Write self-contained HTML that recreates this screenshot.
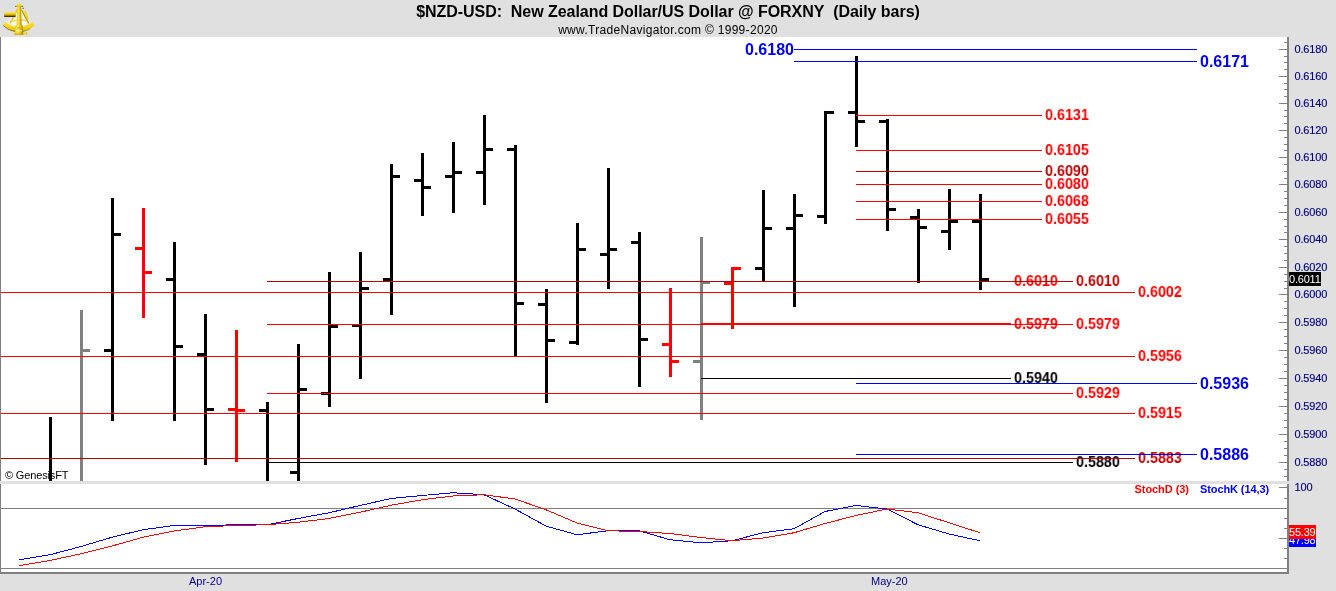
<!DOCTYPE html>
<html lang="en">
<head>
<meta charset="utf-8">
<title>$NZD-USD: New Zealand Dollar/US Dollar @ FORXNY (Daily bars)</title>
<style>
html,body{margin:0;padding:0}
body{width:1336px;height:591px;overflow:hidden;background:#e0e0e0;position:relative;font-family:"Liberation Sans",Arial,sans-serif;-webkit-font-smoothing:antialiased}
#chart{position:absolute;left:0;top:0;width:1336px;height:591px;overflow:hidden}
#gfx{position:absolute;left:0;top:0}
.plot{position:absolute;left:0;width:1287px;background:#fff}
.t{position:absolute;white-space:nowrap;line-height:1;margin:0;padding:0}
.title{left:0;width:1336px;text-align:center;font-weight:bold;font-size:16px;color:#000;top:4px;letter-spacing:-0.045px}
.sub{left:0;width:1336px;text-align:center;font-size:12px;color:#000;top:24px;letter-spacing:0.31px}
.ax{font-size:11px;color:#000080;left:1294.5px;letter-spacing:-0.18px;-webkit-text-stroke:0.15px #000080}
.lb{font-weight:bold}
.r{font-size:15.6px;transform:scale(0.92,0.917);transform-origin:0 0;will-change:transform}
.box{position:absolute;font-size:11px;color:#fff;line-height:14px;height:14px;white-space:nowrap;left:1289px;letter-spacing:-0.2px;overflow:hidden}

</style>
</head>
<body>
<div id="chart">
<div class="plot" style="top:37px;height:444px"></div>
<div class="plot" style="top:484px;height:88px"></div>
<div class="t" style="left:5px;top:470px;font-size:11px;color:#000;letter-spacing:-0.15px">© GenesisFT</div>
<div class="t lb" style="left:745px;top:42px;font-size:16px;color:#0000ff">0.6180</div>
<div class="t lb" style="left:1200px;top:54px;font-size:16px;color:#0000ff">0.6171</div>
<div class="t lb" style="left:1200px;top:376px;font-size:16px;color:#0000ff">0.5936</div>
<div class="t lb" style="left:1200px;top:447px;font-size:16px;color:#0000ff">0.5886</div>
<div class="t lb r" style="left:1045px;top:108px;color:#ff0000">0.6131</div>
<div class="t lb r" style="left:1045px;top:143px;color:#ff0000">0.6105</div>
<div class="t lb r" style="left:1045px;top:164px;color:#c00000">0.6090</div>
<div class="t lb r" style="left:1045px;top:177px;color:#ff0000">0.6080</div>
<div class="t lb r" style="left:1045px;top:194px;color:#ff0000">0.6068</div>
<div class="t lb r" style="left:1045px;top:212px;color:#ff0000">0.6055</div>
<div class="t lb r" style="left:1014px;top:274px;color:#ff0000">0.6010</div>
<div class="t lb r" style="left:1076px;top:274px;color:#c00000">0.6010</div>
<div class="t lb r" style="left:1138px;top:285px;color:#ff0000">0.6002</div>
<div class="t lb r" style="left:1014px;top:317px;color:#ff0000">0.5979</div>
<div class="t lb r" style="left:1076px;top:317px;color:#ff0000">0.5979</div>
<div class="t lb r" style="left:1138px;top:349px;color:#ff0000">0.5956</div>
<div class="t lb r" style="left:1014px;top:371px;color:#000000">0.5940</div>
<div class="t lb r" style="left:1076px;top:386px;color:#ff0000">0.5929</div>
<div class="t lb r" style="left:1138px;top:406px;color:#ff0000">0.5915</div>
<div class="t lb r" style="left:1138px;top:451px;color:#c00000">0.5883</div>
<div class="t lb r" style="left:1076px;top:455px;color:#000000">0.5880</div>
<svg id="gfx" width="1336" height="591" viewBox="0 0 1336 591" shape-rendering="crispEdges">
<rect x="0" y="37" width="1" height="444" fill="#808080"/>
<rect x="0" y="484" width="1" height="90" fill="#808080"/>
<rect x="1" y="508" width="1286" height="1" fill="#808080"/>
<rect x="1" y="568" width="1286" height="1" fill="#808080"/>
<rect x="0" y="572" width="1289" height="2" fill="#808080"/>
<g id="bars">
<rect x="49" y="417" width="3" height="64" fill="#000000"/>
<rect x="80" y="310" width="3" height="171" fill="#808080"/>
<rect x="83" y="349" width="7" height="3" fill="#808080"/>
<rect x="111" y="198" width="3" height="223" fill="#000000"/>
<rect x="104" y="349" width="7" height="3" fill="#000000"/>
<rect x="114" y="233" width="7" height="3" fill="#000000"/>
<rect x="142" y="208" width="3" height="110" fill="#ff0000"/>
<rect x="135" y="247" width="7" height="3" fill="#ff0000"/>
<rect x="145" y="271" width="7" height="3" fill="#ff0000"/>
<rect x="173" y="242" width="3" height="179" fill="#000000"/>
<rect x="166" y="278" width="7" height="3" fill="#000000"/>
<rect x="176" y="345" width="7" height="3" fill="#000000"/>
<rect x="204" y="314" width="3" height="151" fill="#000000"/>
<rect x="197" y="353" width="7" height="3" fill="#000000"/>
<rect x="207" y="408" width="7" height="3" fill="#000000"/>
<rect x="235" y="330" width="3" height="132" fill="#ff0000"/>
<rect x="228" y="408" width="7" height="3" fill="#ff0000"/>
<rect x="238" y="409" width="7" height="3" fill="#ff0000"/>
<rect x="266" y="402" width="3" height="79" fill="#000000"/>
<rect x="259" y="409" width="7" height="3" fill="#000000"/>
<rect x="297" y="344" width="3" height="137" fill="#000000"/>
<rect x="290" y="471" width="7" height="3" fill="#000000"/>
<rect x="300" y="388" width="7" height="3" fill="#000000"/>
<rect x="328" y="272" width="3" height="135" fill="#000000"/>
<rect x="321" y="392" width="7" height="3" fill="#000000"/>
<rect x="331" y="325" width="7" height="3" fill="#000000"/>
<rect x="359" y="252" width="3" height="127" fill="#000000"/>
<rect x="352" y="324" width="7" height="3" fill="#000000"/>
<rect x="362" y="287" width="7" height="3" fill="#000000"/>
<rect x="390" y="164" width="3" height="151" fill="#000000"/>
<rect x="383" y="278" width="7" height="3" fill="#000000"/>
<rect x="393" y="175" width="7" height="3" fill="#000000"/>
<rect x="421" y="153" width="3" height="63" fill="#000000"/>
<rect x="414" y="179" width="7" height="3" fill="#000000"/>
<rect x="424" y="186" width="7" height="3" fill="#000000"/>
<rect x="452" y="142" width="3" height="71" fill="#000000"/>
<rect x="445" y="175" width="7" height="3" fill="#000000"/>
<rect x="455" y="171" width="7" height="3" fill="#000000"/>
<rect x="483" y="115" width="3" height="90" fill="#000000"/>
<rect x="476" y="171" width="7" height="3" fill="#000000"/>
<rect x="486" y="148" width="7" height="3" fill="#000000"/>
<rect x="514" y="145" width="3" height="211" fill="#000000"/>
<rect x="507" y="148" width="7" height="3" fill="#000000"/>
<rect x="517" y="302" width="7" height="3" fill="#000000"/>
<rect x="545" y="289" width="3" height="114" fill="#000000"/>
<rect x="538" y="303" width="7" height="3" fill="#000000"/>
<rect x="548" y="339" width="7" height="3" fill="#000000"/>
<rect x="576" y="223" width="3" height="122" fill="#000000"/>
<rect x="569" y="341" width="7" height="3" fill="#000000"/>
<rect x="579" y="248" width="7" height="3" fill="#000000"/>
<rect x="607" y="168" width="3" height="121" fill="#000000"/>
<rect x="600" y="253" width="7" height="3" fill="#000000"/>
<rect x="610" y="248" width="7" height="3" fill="#000000"/>
<rect x="638" y="232" width="3" height="155" fill="#000000"/>
<rect x="631" y="241" width="7" height="3" fill="#000000"/>
<rect x="641" y="338" width="7" height="3" fill="#000000"/>
<rect x="669" y="288" width="3" height="89" fill="#ff0000"/>
<rect x="662" y="343" width="7" height="3" fill="#ff0000"/>
<rect x="672" y="360" width="7" height="3" fill="#ff0000"/>
<rect x="700" y="237" width="3" height="183" fill="#808080"/>
<rect x="693" y="360" width="7" height="3" fill="#808080"/>
<rect x="703" y="281" width="7" height="3" fill="#808080"/>
<rect x="731" y="267" width="3" height="62" fill="#ff0000"/>
<rect x="724" y="282" width="7" height="3" fill="#ff0000"/>
<rect x="734" y="267" width="7" height="3" fill="#ff0000"/>
<rect x="762" y="190" width="3" height="91" fill="#000000"/>
<rect x="755" y="267" width="7" height="3" fill="#000000"/>
<rect x="765" y="227" width="7" height="3" fill="#000000"/>
<rect x="793" y="194" width="3" height="113" fill="#000000"/>
<rect x="786" y="227" width="7" height="3" fill="#000000"/>
<rect x="796" y="214" width="7" height="3" fill="#000000"/>
<rect x="824" y="111" width="3" height="113" fill="#000000"/>
<rect x="817" y="215" width="7" height="3" fill="#000000"/>
<rect x="827" y="111" width="7" height="3" fill="#000000"/>
<rect x="855" y="56" width="3" height="91" fill="#000000"/>
<rect x="848" y="111" width="7" height="3" fill="#000000"/>
<rect x="858" y="120" width="7" height="3" fill="#000000"/>
<rect x="886" y="119" width="3" height="112" fill="#000000"/>
<rect x="879" y="120" width="7" height="3" fill="#000000"/>
<rect x="889" y="208" width="7" height="3" fill="#000000"/>
<rect x="917" y="209" width="3" height="74" fill="#000000"/>
<rect x="910" y="216" width="7" height="3" fill="#000000"/>
<rect x="920" y="226" width="7" height="3" fill="#000000"/>
<rect x="948" y="189" width="3" height="61" fill="#000000"/>
<rect x="941" y="230" width="7" height="3" fill="#000000"/>
<rect x="951" y="220" width="7" height="3" fill="#000000"/>
<rect x="979" y="194" width="3" height="96" fill="#000000"/>
<rect x="972" y="220" width="7" height="3" fill="#000000"/>
<rect x="982" y="278" width="7" height="3" fill="#000000"/>
</g>
<g id="levels">
<rect x="794" y="49" width="403" height="1" fill="#0000ff"/>
<rect x="794" y="61" width="403" height="1" fill="#0000ff"/>
<rect x="856" y="383" width="341" height="1" fill="#0000ff"/>
<rect x="856" y="454" width="341" height="1" fill="#0000ff"/>
<rect x="856" y="115" width="186" height="1" fill="#ff0000"/>
<rect x="856" y="150" width="186" height="1" fill="#ff0000"/>
<rect x="856" y="171" width="186" height="1" fill="#c00000"/>
<rect x="856" y="184" width="186" height="1" fill="#ff0000"/>
<rect x="856" y="201" width="186" height="1" fill="#ff0000"/>
<rect x="856" y="219" width="186" height="1" fill="#ff0000"/>
<rect x="267" y="281" width="806" height="1" fill="#c00000"/>
<rect x="1" y="292" width="1134" height="1" fill="#ff0000"/>
<rect x="267" y="324" width="806" height="1" fill="#ff0000"/>
<rect x="701" y="323" width="310" height="2" fill="#ff0000"/>
<rect x="1" y="356" width="1134" height="1" fill="#ff0000"/>
<rect x="701" y="378" width="310" height="1" fill="#000000"/>
<rect x="267" y="393" width="806" height="1" fill="#ff0000"/>
<rect x="1" y="413" width="1134" height="1" fill="#ff0000"/>
<rect x="1" y="458" width="1134" height="1" fill="#c00000"/>
<rect x="267" y="462" width="806" height="1" fill="#000000"/>
</g>
<rect x="0" y="481" width="1287" height="3" fill="#e0e0e0"/>
<g id="stoch">
<polyline points="19,559.75 50,554.75 81,546.50 112,537.25 143,529.75 174,525.50 205,525.50 236,524.75 267,524.75 298,518.50 329,512.75 360,505.50 391,498.50 422,495.50 453,492.75 484,494.75 515,509.00 546,526.10 577,534.75 608,530.75 639,530.75 670,539.75 701,542.75 732,540.75 763,532.75 794,528.75 825,511.50 856,505.50 887,509.00 918,524.75 949,534.00 980,540.75" fill="none" stroke="#0000ff" stroke-width="1"/>
<polyline points="19,565.75 50,560.50 81,553.75 112,546.00 143,537.25 174,531.00 205,526.75 236,525.50 267,524.75 298,522.25 329,518.50 360,512.25 391,505.25 422,499.75 453,496.00 484,494.75 515,499.00 546,509.75 577,523.00 608,530.75 639,531.50 670,533.50 701,537.50 732,540.75 763,538.00 794,532.75 825,523.50 856,515.50 887,509.00 918,512.75 949,522.75 980,532.75" fill="none" stroke="#ff0000" stroke-width="1"/>
</g>
<g id="axis" fill="#808080">
<rect x="1287" y="37" width="2" height="444"/>
<rect x="1287" y="484" width="2" height="90"/>
<rect x="1284" y="42" width="3" height="1"/>
<rect x="1279" y="49" width="8" height="1"/>
<rect x="1284" y="56" width="3" height="1"/>
<rect x="1284" y="62" width="3" height="1"/>
<rect x="1284" y="69" width="3" height="1"/>
<rect x="1279" y="76" width="8" height="1"/>
<rect x="1284" y="83" width="3" height="1"/>
<rect x="1284" y="89" width="3" height="1"/>
<rect x="1284" y="96" width="3" height="1"/>
<rect x="1279" y="103" width="8" height="1"/>
<rect x="1284" y="110" width="3" height="1"/>
<rect x="1284" y="116" width="3" height="1"/>
<rect x="1284" y="123" width="3" height="1"/>
<rect x="1279" y="130" width="8" height="1"/>
<rect x="1284" y="137" width="3" height="1"/>
<rect x="1284" y="144" width="3" height="1"/>
<rect x="1284" y="150" width="3" height="1"/>
<rect x="1279" y="157" width="8" height="1"/>
<rect x="1284" y="164" width="3" height="1"/>
<rect x="1284" y="171" width="3" height="1"/>
<rect x="1284" y="178" width="3" height="1"/>
<rect x="1279" y="184" width="8" height="1"/>
<rect x="1284" y="191" width="3" height="1"/>
<rect x="1284" y="198" width="3" height="1"/>
<rect x="1284" y="205" width="3" height="1"/>
<rect x="1279" y="212" width="8" height="1"/>
<rect x="1284" y="219" width="3" height="1"/>
<rect x="1284" y="226" width="3" height="1"/>
<rect x="1284" y="232" width="3" height="1"/>
<rect x="1279" y="239" width="8" height="1"/>
<rect x="1284" y="246" width="3" height="1"/>
<rect x="1284" y="253" width="3" height="1"/>
<rect x="1284" y="260" width="3" height="1"/>
<rect x="1279" y="267" width="8" height="1"/>
<rect x="1284" y="274" width="3" height="1"/>
<rect x="1284" y="281" width="3" height="1"/>
<rect x="1284" y="288" width="3" height="1"/>
<rect x="1279" y="294" width="8" height="1"/>
<rect x="1284" y="301" width="3" height="1"/>
<rect x="1284" y="308" width="3" height="1"/>
<rect x="1284" y="315" width="3" height="1"/>
<rect x="1279" y="322" width="8" height="1"/>
<rect x="1284" y="329" width="3" height="1"/>
<rect x="1284" y="336" width="3" height="1"/>
<rect x="1284" y="343" width="3" height="1"/>
<rect x="1279" y="350" width="8" height="1"/>
<rect x="1284" y="357" width="3" height="1"/>
<rect x="1284" y="364" width="3" height="1"/>
<rect x="1284" y="371" width="3" height="1"/>
<rect x="1279" y="378" width="8" height="1"/>
<rect x="1284" y="385" width="3" height="1"/>
<rect x="1284" y="392" width="3" height="1"/>
<rect x="1284" y="399" width="3" height="1"/>
<rect x="1279" y="406" width="8" height="1"/>
<rect x="1284" y="413" width="3" height="1"/>
<rect x="1284" y="420" width="3" height="1"/>
<rect x="1284" y="427" width="3" height="1"/>
<rect x="1279" y="434" width="8" height="1"/>
<rect x="1284" y="441" width="3" height="1"/>
<rect x="1284" y="448" width="3" height="1"/>
<rect x="1284" y="455" width="3" height="1"/>
<rect x="1279" y="462" width="8" height="1"/>
<rect x="1284" y="469" width="3" height="1"/>
<rect x="1284" y="476" width="3" height="1"/>
<rect x="1279" y="487" width="8" height="1"/>
<rect x="1284" y="498" width="3" height="1"/>
<rect x="1284" y="508" width="3" height="1"/>
<rect x="1284" y="518" width="3" height="1"/>
<rect x="1284" y="528" width="3" height="1"/>
<rect x="1279" y="538" width="8" height="1"/>
<rect x="1284" y="548" width="3" height="1"/>
<rect x="1284" y="558" width="3" height="1"/>
<rect x="1284" y="568" width="3" height="1"/>
</g>
</svg>
<svg id="logo" style="position:absolute;left:0;top:0" width="40" height="37" viewBox="0 0 40 37">
<defs>
<linearGradient id="lgT" x1="0" y1="0" x2="0" y2="1"><stop offset="0" stop-color="#f8e870"/><stop offset=".3" stop-color="#f2d424"/><stop offset=".62" stop-color="#caa000"/><stop offset=".86" stop-color="#4a3600"/><stop offset="1" stop-color="#2a1e00"/></linearGradient>
<linearGradient id="lgC" x1="0" y1="0" x2="1" y2="0"><stop offset="0" stop-color="#e6c416"/><stop offset=".38" stop-color="#f8e454"/><stop offset=".72" stop-color="#e4be08"/><stop offset="1" stop-color="#8a6a00"/></linearGradient>
<linearGradient id="lgA" x1="0" y1="0" x2="0" y2="1"><stop offset="0" stop-color="#f8e44c"/><stop offset=".45" stop-color="#f2d620"/><stop offset=".8" stop-color="#e8c80c"/><stop offset="1" stop-color="#a88400"/></linearGradient>
</defs>
<path d="M18.5 9 L7.5 22 Q19 29.5 30.5 22.5 L22 9 Z" fill="#ffffff" opacity=".78"/>
<path d="M17 10.2 L10.4 22.8 M21.4 9.6 L28.4 23.2" stroke="#e8c622" stroke-width="1.7" fill="none" stroke-linecap="round"/>
<path d="M11.6 21.4 Q19 18.4 26.6 21" stroke="#efd23a" stroke-width="1.3" fill="none" stroke-linecap="round"/>
<path d="M24.9 12 L26.2 14.4 M26.6 16 L27.4 18.8" stroke="#f0d232" stroke-width="2.1" fill="none" stroke-linecap="round"/>
<path d="M22.2 10.8 L28.9 23.5" stroke="#6a5200" stroke-width=".6" fill="none" opacity=".75"/>
<path d="M3.1 25.3 L6.2 21.4 A17.3 17.3 0 0 0 31.6 21.6 L34.9 25.3 A22.5 22.5 0 0 1 3.1 25.3 Z" fill="url(#lgA)"/>
<path d="M3.2 25.6 A22.3 22.3 0 0 0 15 31.6" stroke="#3a2c00" stroke-width=".7" fill="none" opacity=".75"/>
<path d="M23 31.6 A22.3 22.3 0 0 0 30.4 28.6" stroke="#6a5000" stroke-width=".6" fill="none" opacity=".6"/>
<path d="M6.4 21.9 A17.2 17.2 0 0 0 14.6 26.3" stroke="#fffce0" stroke-width=".9" fill="none"/>
<path d="M23 26.2 A17.2 17.2 0 0 0 31.4 21.9" stroke="#fff7b0" stroke-width=".7" fill="none"/>
<rect x="4" y="12" width="11.8" height="5" rx=".9" fill="url(#lgT)"/>
<path d="M17.2 6.6 L21 6.6 L21.5 26 L16.7 26 Z" fill="url(#lgC)"/>
<path d="M16 6.2 L16.8 4.4 L18.9 2.8 L21 4.2 L21.8 6.2 Z" fill="#f0d222"/>
<path d="M17.2 4.6 L18.9 3.1 L19.8 4.5 Z" fill="#fff6a0"/>
<path d="M15 6.4 L16.5 6.4 M21.5 6.4 L23.2 6.4" stroke="#3a2c00" stroke-width=".8" opacity=".85"/>
<path d="M16.5 6.4 L21.5 6.4" stroke="#b08c00" stroke-width=".6" opacity=".8"/>
<path d="M22.4 7.7 L23.9 7.9 L23.8 8.8 L22.3 8.6 Z" fill="#3a2c00" opacity=".9"/>
<path d="M15.6 25 L22.4 25 L23.4 34.6 L14.4 34.6 Z" fill="url(#lgC)"/>
<rect x="16" y="30" width="6" height="1.3" fill="#fff6a0" opacity=".8"/>
<rect x="17.5" y="27.8" width="3" height=".6" fill="#8a6a00" opacity=".6"/>
<rect x="14.4" y="33.7" width="9" height="1" fill="#c49a00"/>
<rect x="23.3" y="32.7" width="3" height="1.5" fill="#f0cf10"/>
<rect x="26" y="32" width="1.1" height="2.9" fill="#ecc810"/>
</svg>

<div class="t title">$NZD-USD:&nbsp; New Zealand Dollar/US Dollar @ FORXNY&nbsp; (Daily bars)</div>
<div class="t sub">www.TradeNavigator.com © 1999-2020</div>
<div class="t ax" style="top:44px">0.6180</div>
<div class="t ax" style="top:71px">0.6160</div>
<div class="t ax" style="top:98px">0.6140</div>
<div class="t ax" style="top:125px">0.6120</div>
<div class="t ax" style="top:152px">0.6100</div>
<div class="t ax" style="top:179px">0.6080</div>
<div class="t ax" style="top:207px">0.6060</div>
<div class="t ax" style="top:234px">0.6040</div>
<div class="t ax" style="top:262px">0.6020</div>
<div class="t ax" style="top:289px">0.6000</div>
<div class="t ax" style="top:317px">0.5980</div>
<div class="t ax" style="top:345px">0.5960</div>
<div class="t ax" style="top:373px">0.5940</div>
<div class="t ax" style="top:401px">0.5920</div>
<div class="t ax" style="top:429px">0.5900</div>
<div class="t ax" style="top:457px">0.5880</div>
<div class="t ax" style="top:482px">100</div>
<div class="t lb" style="left:1134.5px;top:484px;font-size:11px;color:#ff0000;letter-spacing:-0.06px">StochD (3)</div>
<div class="t lb" style="left:1200px;top:484px;font-size:11px;color:#0000ff;letter-spacing:-0.1px">StochK (14,3)</div>
<div class="box" style="top:533px;width:27px;background:#0000ff">47.98</div>
<div class="box" style="top:525px;width:27px;background:#ff0000">55.39</div>
<div class="box" style="top:272px;width:32px;background:#000">0.6011</div>
<div class="t" style="left:189px;top:576px;font-size:11px;color:#000080">Apr-20</div>
<div class="t" style="left:871px;top:576px;font-size:11px;color:#000080">May-20</div>
</div>
</body>
</html>
